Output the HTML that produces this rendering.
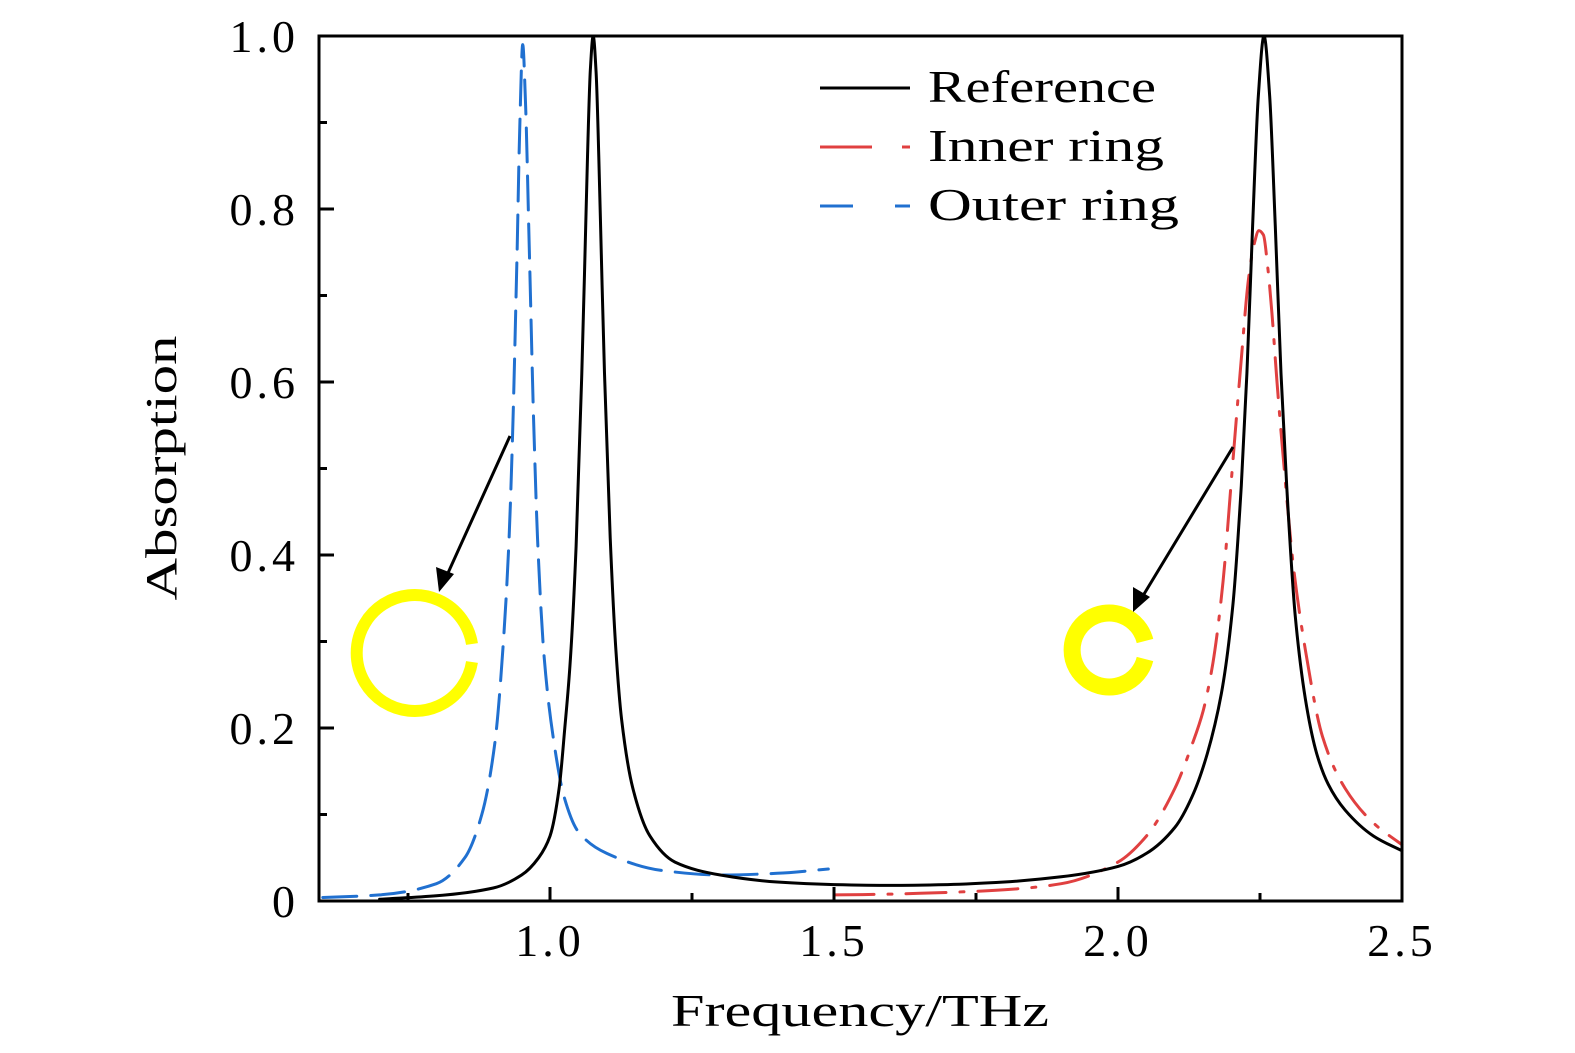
<!DOCTYPE html>
<html><head><meta charset="utf-8"><style>
html,body{margin:0;padding:0;background:#fff;}
svg{display:block;}
text{font-family:"Liberation Serif",serif;fill:#000;}
</style></head><body>
<svg id="chart" width="1575" height="1053" viewBox="0 0 1575 1053" xmlns="http://www.w3.org/2000/svg">
<g id="marks"></g>
<g id="axes"></g>
<g>
  <line x1="820" y1="88" x2="910" y2="88" stroke="#000" stroke-width="3"/>
  <text x="928" y="102" font-size="46" textLength="228" lengthAdjust="spacingAndGlyphs">Reference</text>
  <line x1="820" y1="147" x2="910" y2="147" stroke="#e04040" stroke-width="3" stroke-dasharray="52 30 8 30"/>
  <text x="928" y="161" font-size="46" textLength="236" lengthAdjust="spacingAndGlyphs">Inner ring</text>
  <line x1="820" y1="206" x2="910" y2="206" stroke="#2070d0" stroke-width="3" stroke-dasharray="33 42 15 0"/>
  <text x="928" y="220" font-size="46" textLength="251" lengthAdjust="spacingAndGlyphs">Outer ring</text>
</g>
<g>
  <path d="M 472 644 A 58 58 0 1 0 472 662" fill="none" stroke="#ffff00" stroke-width="12"/>
  <line x1="510" y1="436" x2="443" y2="584" stroke="#000" stroke-width="3"/>
  <polygon points="439,592 436,567 454,574" fill="#000"/>
</g>
<g>
  <path d="M 1145 641 A 37 37 0 1 0 1145 659" fill="none" stroke="#ffff00" stroke-width="17"/>
  <line x1="1233" y1="447" x2="1138" y2="604" stroke="#000" stroke-width="3"/>
  <polygon points="1133,612 1133,587 1150,597" fill="#000"/>
</g>
<text transform="translate(176,468) rotate(-90)" text-anchor="middle" font-size="44" textLength="265" lengthAdjust="spacingAndGlyphs">Absorption</text>
<text x="860" y="1026" text-anchor="middle" font-size="46" textLength="378" lengthAdjust="spacingAndGlyphs">Frequency/THz</text>
</svg>
<script>
const refX=[0.70,0.80,0.90,0.95,0.98,1.00,1.016,1.026,1.036,1.046,1.056,1.061,1.066,1.071,1.076,1.081,1.086,1.091,1.096,1.106,1.116,1.126,1.146,1.176,1.22,1.30,1.40,1.50,1.60,1.70,1.80,1.90,2.00,2.05,2.10,2.13,2.157,2.182,2.202,2.217,2.227,2.237,2.247,2.257,2.267,2.277,2.287,2.297,2.312,2.332,2.35,2.37,2.40,2.45,2.50];
const refY=[0.002,0.006,0.015,0.03,0.05,0.075,0.13,0.2,0.28,0.41,0.61,0.73,0.86,0.96,1.0,0.96,0.86,0.73,0.61,0.42,0.29,0.21,0.13,0.075,0.045,0.03,0.022,0.019,0.018,0.019,0.022,0.028,0.04,0.055,0.085,0.12,0.17,0.24,0.34,0.48,0.61,0.78,0.93,1.0,0.93,0.78,0.61,0.48,0.33,0.225,0.17,0.135,0.105,0.075,0.058];
const outerX=[0.60,0.70,0.80,0.85,0.88,0.903,0.918,0.928,0.935,0.942,0.947,0.952,0.957,0.964,0.971,0.978,0.99,1.007,1.025,1.05,1.10,1.20,1.30,1.40,1.49];
const outerY=[0.004,0.007,0.02,0.05,0.10,0.183,0.3,0.42,0.56,0.75,0.9,0.99,0.92,0.74,0.56,0.42,0.28,0.183,0.12,0.08,0.055,0.035,0.03,0.032,0.037];
const innerX=[1.50,1.60,1.70,1.80,1.90,2.00,2.05,2.10,2.13,2.15,2.167,2.185,2.20,2.215,2.23,2.24,2.248,2.256,2.264,2.271,2.28,2.29,2.31,2.33,2.36,2.40,2.45,2.50];
const innerY=[0.007,0.008,0.01,0.013,0.02,0.045,0.075,0.13,0.18,0.22,0.275,0.37,0.49,0.61,0.72,0.76,0.775,0.77,0.73,0.68,0.6,0.52,0.38,0.29,0.19,0.13,0.09,0.065];
const xTicks=[1.0,1.5,2.0,2.5];
const xTickLabels=["1.0","1.5","2.0","2.5"];
const xMinor=[0.75,1.25,1.75,2.25];
const yTicks=[0,0.2,0.4,0.6,0.8,1.0];
const yTickLabels=["0","0.2","0.4","0.6","0.8","1.0"];
const yMinor=[0.1,0.3,0.5,0.7,0.9];

const L=319,R=1402,T=36,B=901;
function xs(v){return 550+(v-1)*568;}
function ys(v){return B-v*(B-T);}
const NS="http://www.w3.org/2000/svg";
const marks=document.getElementById('marks');
const axes=document.getElementById('axes');
function mk(tag,attrs,parent){const e=document.createElementNS(NS,tag);for(const k in attrs)e.setAttribute(k,attrs[k]);parent.appendChild(e);return e;}
function smoothPath(xa,ya){
  const n=xa.length,px=xa.map(xs),py=ya.map(ys);
  const d=[],m=[];
  for(let i=0;i<n-1;i++)d.push((py[i+1]-py[i])/(px[i+1]-px[i]));
  for(let i=0;i<n;i++){
    if(i===0)m.push(d[0]);else if(i===n-1)m.push(d[n-2]);
    else if(d[i-1]*d[i]<=0)m.push(0);
    else{const h0=px[i]-px[i-1],h1=px[i+1]-px[i];const w1=2*h1+h0,w2=h1+2*h0;m.push((w1+w2)/(w1/d[i-1]+w2/d[i]));}
  }
  let s='M'+px[0].toFixed(1)+' '+py[0].toFixed(1);
  for(let i=0;i<n-1;i++){
    const h=(px[i+1]-px[i])/3;
    s+=' C'+(px[i]+h).toFixed(1)+' '+(py[i]+m[i]*h).toFixed(1)+' '+(px[i+1]-h).toFixed(1)+' '+(py[i+1]-m[i+1]*h).toFixed(1)+' '+px[i+1].toFixed(1)+' '+py[i+1].toFixed(1);
  }
  return s;
}
function line(xa,ya,color,dash,name){
  const p=mk('path',{d:smoothPath(xa,ya),fill:'none',stroke:color,'stroke-width':3,'stroke-linejoin':'round','stroke-linecap':'round'},marks);
  if(dash)p.setAttribute('stroke-dasharray',dash);
  
  
}
line(outerX,outerY,'#2070d0','34 14','outer-ring-series');
line(innerX,innerY,'#e04040','40 14 4 14','inner-ring-series');
line(refX,refY,'#000','', 'reference-series');

const frame=mk('rect',{x:L,y:T,width:R-L,height:B-T,fill:'none',stroke:'#000','stroke-width':3},axes);


xTicks.forEach((v,i)=>{
  const t=mk('line',{x1:xs(v),x2:xs(v),y1:B,y2:B-14,stroke:'#000','stroke-width':3},axes);
  
  
  const lb=mk('text',{x:xs(v),y:B+55,'text-anchor':'middle','font-size':46,'letter-spacing':4},axes);
  lb.textContent=xTickLabels[i];
  
  
});
xMinor.forEach(v=>{
  const t=mk('line',{x1:xs(v),x2:xs(v),y1:B,y2:B-8,stroke:'#000','stroke-width':3},axes);
  
  
});
yTicks.forEach((v,i)=>{
  const t=mk('line',{x1:L,x2:L+15,y1:ys(v),y2:ys(v),stroke:'#000','stroke-width':3},axes);
  
  
  const lb=mk('text',{x:L-20,y:ys(v)+16,'text-anchor':'end','font-size':46,'letter-spacing':4},axes);
  lb.textContent=yTickLabels[i];
  
  
});
yMinor.forEach(v=>{
  const t=mk('line',{x1:L,x2:L+8,y1:ys(v),y2:ys(v),stroke:'#000','stroke-width':3},axes);
  
  
});
</script>
</body></html>
